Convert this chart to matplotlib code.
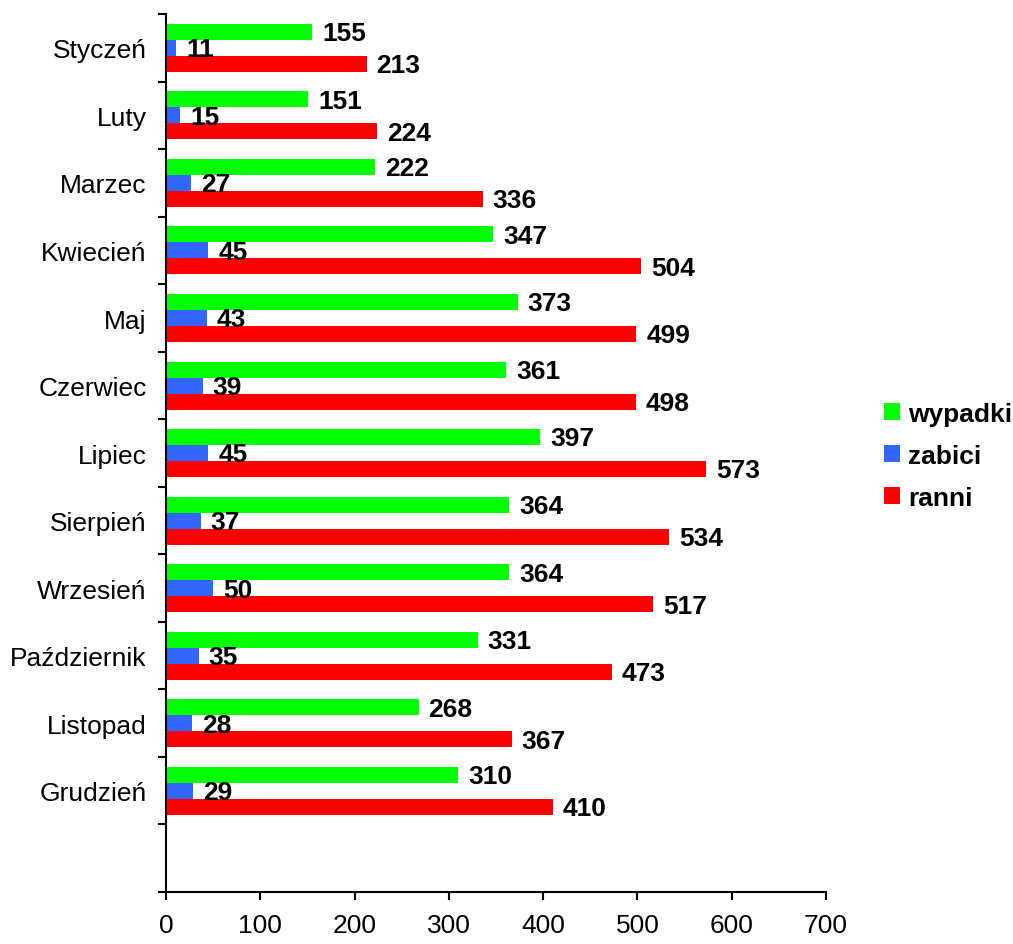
import matplotlib.pyplot as plt
import numpy as np

plt.rcParams['font.family'] = ['Liberation Sans', 'DejaVu Sans']

months = ['Styczeń', 'Luty', 'Marzec', 'Kwiecień', 'Maj', 'Czerwiec', 'Lipiec',
          'Sierpień', 'Wrzesień', 'Październik', 'Listopad', 'Grudzień']
wypadki = [155, 151, 222, 347, 373, 361, 397, 364, 364, 331, 268, 310]
zabici = [11, 15, 27, 45, 43, 39, 45, 37, 50, 35, 28, 29]
ranni = [213, 224, 336, 504, 499, 498, 573, 534, 517, 473, 367, 410]

series = [('wypadki', wypadki, '#00ff00'),
          ('zabici', zabici, '#3366ff'),
          ('ranni', ranni, '#ff0000')]

fig = plt.figure(figsize=(10.13, 9.45), dpi=100)
ax = fig.add_axes([0.1639, 0.055, 0.6515, 0.929])

y = np.arange(len(months))
h = 0.237
for i, (name, vals, col) in enumerate(series):
    pos = y + (i - 1) * h
    bars = ax.barh(pos, vals, height=h, color=col, label=name)
    for b, v in zip(bars, vals):
        ax.annotate(str(v), (b.get_width(), b.get_y() + b.get_height() / 2),
                    xytext=(7, -1), textcoords='offset points',
                    va='center', ha='left', fontsize=19, fontweight='bold')

ax.set_xlim(0, 700)
ax.set_xticks(range(0, 701, 100))
ax.set_ylim(len(months) + 0.5, -0.5)

# boundaries between months get tick marks, names sit in between
ax.set_yticks(np.arange(-0.5, len(months) + 0.6, 1))
ax.set_yticklabels([])
ax.set_yticks(y, minor=True)
ax.set_yticklabels(months, minor=True)
ax.tick_params(axis='y', which='minor', length=0, pad=14, labelsize=19)
ax.tick_params(axis='y', which='major', length=6, width=1.5)
ax.tick_params(axis='x', length=6, width=1.5, labelsize=19, pad=9)

for s in ['top', 'right']:
    ax.spines[s].set_visible(False)
for s in ['left', 'bottom']:
    ax.spines[s].set_linewidth(1.5)

fig.legend(loc='center left', bbox_to_anchor=(0.8727, 0.5165), frameon=False,
           borderaxespad=0, borderpad=0,
           prop={'weight': 'bold', 'size': 19}, handlelength=0.6, handleheight=0.6,
           handletextpad=0.3, labelspacing=0.68)

fig.savefig('out.png', dpi=100)
